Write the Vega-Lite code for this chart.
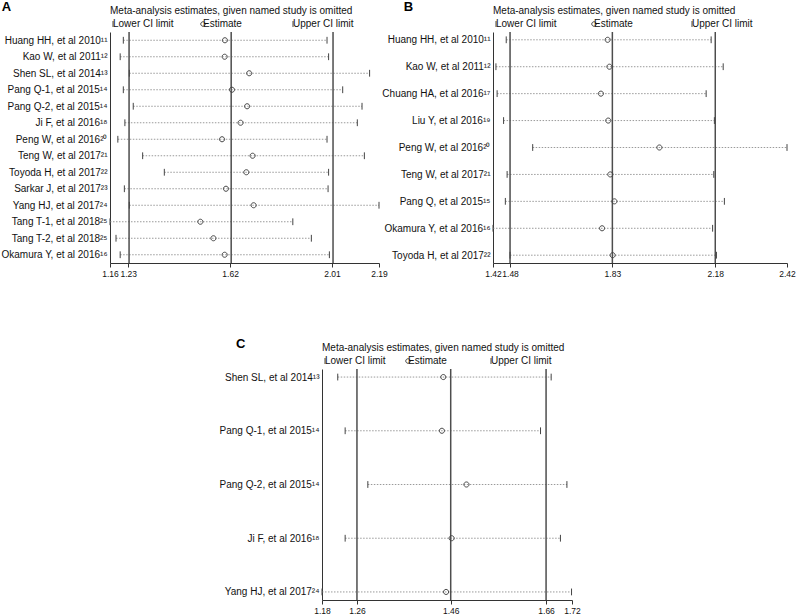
{
 "$schema": "https://vega.github.io/schema/vega-lite/v6.json",
 "padding": {"left": 0, "top": 1, "right": 4, "bottom": 2},
 "config": {
  "font": "Liberation Sans",
  "view": {"stroke": null},
  "axis": {"grid": false, "title": null, "labelFontSize": 10, "labelColor": "#111", "domainColor": "#333", "tickColor": "#333", "domainWidth": 1},
  "axisX": {"tickSize": 4, "labelPadding": 2, "labelFontSize": 8.5, "labelOverlap": false, "labelFlush": false, "labelBound": false, "format": ".2f"},
  "axisY": {"ticks": false, "labelPadding": 3, "labelLimit": 300},
  "legend": {"orient": "top", "direction": "horizontal", "offset": 3, "padding": 0, "titleFontSize": 10, "titleFontWeight": "normal", "titleColor": "#111", "titlePadding": 3, "labelFontSize": 10, "labelColor": "#111", "labelOffset": -5, "symbolOffset": -2, "symbolSize": 36, "symbolStrokeWidth": 1, "gridAlign": "all", "titleLimit": 400},
  "title": {"anchor": "start", "frame": "bounds", "fontSize": 13, "fontWeight": "bold", "color": "#000", "offset": 0, "dy": 12}
 },
 "datasets": {
  "A": [
   {"study": "Huang HH, et al 2010¹¹", "Lower CI limit": 1.211, "Estimate": 1.600, "Upper CI limit": 1.991},
   {"study": "Kao W, et al 2011¹²", "Lower CI limit": 1.199, "Estimate": 1.599, "Upper CI limit": 1.997},
   {"study": "Shen SL, et al 2014¹³", "Lower CI limit": 1.234, "Estimate": 1.693, "Upper CI limit": 2.154},
   {"study": "Pang Q-1, et al 2015¹⁴", "Lower CI limit": 1.211, "Estimate": 1.627, "Upper CI limit": 2.051},
   {"study": "Pang Q-2, et al 2015¹⁴", "Lower CI limit": 1.249, "Estimate": 1.685, "Upper CI limit": 2.125},
   {"study": "Ji F, et al 2016¹⁸", "Lower CI limit": 1.217, "Estimate": 1.660, "Upper CI limit": 2.107},
   {"study": "Peng W, et al 2016²⁰", "Lower CI limit": 1.190, "Estimate": 1.589, "Upper CI limit": 1.991},
   {"study": "Teng W, et al 2017²¹", "Lower CI limit": 1.285, "Estimate": 1.706, "Upper CI limit": 2.134},
   {"study": "Toyoda H, et al 2017²²", "Lower CI limit": 1.368, "Estimate": 1.682, "Upper CI limit": 1.997},
   {"study": "Sarkar J, et al 2017²³", "Lower CI limit": 1.215, "Estimate": 1.604, "Upper CI limit": 1.995},
   {"study": "Yang HJ, et al 2017²⁴", "Lower CI limit": 1.234, "Estimate": 1.710, "Upper CI limit": 2.190},
   {"study": "Tang T-1, et al 2018²⁵", "Lower CI limit": 1.160, "Estimate": 1.506, "Upper CI limit": 1.860},
   {"study": "Tang T-2, et al 2018²⁵", "Lower CI limit": 1.183, "Estimate": 1.556, "Upper CI limit": 1.931},
   {"study": "Okamura Y, et al 2016¹⁶", "Lower CI limit": 1.199, "Estimate": 1.599, "Upper CI limit": 2.000}
  ],
  "B": [
   {"study": "Huang HH, et al 2010¹¹", "Lower CI limit": 1.465, "Estimate": 1.810, "Upper CI limit": 2.162},
   {"study": "Kao W, et al 2011¹²", "Lower CI limit": 1.430, "Estimate": 1.816, "Upper CI limit": 2.203},
   {"study": "Chuang HA, et al 2016¹⁷", "Lower CI limit": 1.434, "Estimate": 1.787, "Upper CI limit": 2.145},
   {"study": "Liu Y, et al 2016¹⁹", "Lower CI limit": 1.456, "Estimate": 1.812, "Upper CI limit": 2.173},
   {"study": "Peng W, et al 2016²⁰", "Lower CI limit": 1.555, "Estimate": 1.986, "Upper CI limit": 2.420},
   {"study": "Teng W, et al 2017²¹", "Lower CI limit": 1.468, "Estimate": 1.819, "Upper CI limit": 2.171},
   {"study": "Pang Q, et al 2015¹⁵", "Lower CI limit": 1.462, "Estimate": 1.833, "Upper CI limit": 2.207},
   {"study": "Okamura Y, et al 2016¹⁶", "Lower CI limit": 1.420, "Estimate": 1.791, "Upper CI limit": 2.167},
   {"study": "Toyoda H, et al 2017²²", "Lower CI limit": 1.478, "Estimate": 1.827, "Upper CI limit": 2.180}
  ],
  "C": [
   {"study": "Shen SL, et al 2014¹³", "Lower CI limit": 1.214, "Estimate": 1.442, "Upper CI limit": 1.675},
   {"study": "Pang Q-1, et al 2015¹⁴", "Lower CI limit": 1.230, "Estimate": 1.439, "Upper CI limit": 1.652},
   {"study": "Pang Q-2, et al 2015¹⁴", "Lower CI limit": 1.279, "Estimate": 1.492, "Upper CI limit": 1.709},
   {"study": "Ji F, et al 2016¹⁸", "Lower CI limit": 1.230, "Estimate": 1.460, "Upper CI limit": 1.695},
   {"study": "Yang HJ, et al 2017²⁴", "Lower CI limit": 1.180, "Estimate": 1.448, "Upper CI limit": 1.719}
  ]
 },
 "spacing": 60,
 "resolve": {"scale": {"shape": "independent"}, "legend": {"shape": "independent"}},
 "vconcat": [
  {
   "hconcat": [
    {
     "title": {"text": "A", "dx": 1},
     "width": 269, "height": 231,
     "data": {"name": "A"},
     "layer": [
      {
       "mark": {"type": "rule", "color": "#9a9a9a", "strokeWidth": 1, "strokeDash": [1.5, 1.5]},
       "encoding": {
        "y": {"field": "study", "type": "nominal", "sort": null, "scale": {"type": "point", "padding": 0.5}},
        "x": {"field": "Lower CI limit", "type": "quantitative", "scale": {"domain": [1.16, 2.19], "nice": false, "zero": false}, "axis": {"values": [1.16, 1.23, 1.62, 2.01, 2.19]}},
        "x2": {"field": "Upper CI limit"}
       }
      },
      {
       "data": {"values": [{"v": 1.233}, {"v": 1.624}, {"v": 2.014}]},
       "mark": {"type": "rule", "color": "#4d4d4d", "strokeWidth": 1.5},
       "encoding": {"x": {"field": "v", "type": "quantitative"}}
      },
      {
       "transform": [{"fold": ["Lower CI limit", "Estimate", "Upper CI limit"], "as": ["type", "value"]}],
       "mark": {"type": "point", "filled": false, "color": "#444", "strokeWidth": 1, "size": 46, "opacity": 1},
       "encoding": {
        "y": {"field": "study", "type": "nominal", "sort": null},
        "x": {"field": "value", "type": "quantitative"},
        "shape": {"field": "type", "type": "nominal", "scale": {"domain": ["Lower CI limit", "Estimate", "Upper CI limit"], "range": ["M0,-1L0,1", "M0.75,0A0.75,0.75,0,1,1,-0.75,0A0.75,0.75,0,1,1,0.75,0Z", "M0,-1L0,1"]}, "legend": {"title": "Meta-analysis estimates, given named study is omitted", "columnPadding": 24}}
       }
      }
     ]
    },
    {
     "title": {"text": "B", "dx": 22},
     "width": 294, "height": 231,
     "data": {"name": "B"},
     "layer": [
      {
       "mark": {"type": "rule", "color": "#9a9a9a", "strokeWidth": 1, "strokeDash": [1.5, 1.5]},
       "encoding": {
        "y": {"field": "study", "type": "nominal", "sort": null, "scale": {"type": "point", "padding": 0.29}},
        "x": {"field": "Lower CI limit", "type": "quantitative", "scale": {"domain": [1.42, 2.42], "nice": false, "zero": false}, "axis": {"values": [1.42, 1.478, 1.826, 2.176, 2.42]}},
        "x2": {"field": "Upper CI limit"}
       }
      },
      {
       "data": {"values": [{"v": 1.478}, {"v": 1.826}, {"v": 2.176}]},
       "mark": {"type": "rule", "color": "#4d4d4d", "strokeWidth": 1.5},
       "encoding": {"x": {"field": "v", "type": "quantitative"}}
      },
      {
       "transform": [{"fold": ["Lower CI limit", "Estimate", "Upper CI limit"], "as": ["type", "value"]}],
       "mark": {"type": "point", "filled": false, "color": "#444", "strokeWidth": 1, "size": 46, "opacity": 1},
       "encoding": {
        "y": {"field": "study", "type": "nominal", "sort": null},
        "x": {"field": "value", "type": "quantitative"},
        "shape": {"field": "type", "type": "nominal", "scale": {"domain": ["Lower CI limit", "Estimate", "Upper CI limit"], "range": ["M0,-1L0,1", "M0.75,0A0.75,0.75,0,1,1,-0.75,0A0.75,0.75,0,1,1,0.75,0Z", "M0,-1L0,1"]}, "legend": {"title": "Meta-analysis estimates, given named study is omitted", "columnPadding": 32}}
       }
      }
     ]
    }
   ],
   "spacing": 114,
   "bounds": "flush",
   "resolve": {"scale": {"shape": "independent"}, "legend": {"shape": "independent"}}
  },
  {
   "hconcat": [
    {
     "width": 98, "height": 231,
     "data": {"values": [{}]},
     "mark": {"type": "text"},
     "encoding": {"text": {"value": ""}}
    },
    {
     "title": {"text": "C", "dx": 17},
     "width": 250, "height": 231,
     "data": {"name": "C"},
     "layer": [
      {
       "mark": {"type": "rule", "color": "#9a9a9a", "strokeWidth": 1, "strokeDash": [1.5, 1.5]},
       "encoding": {
        "y": {"field": "study", "type": "nominal", "sort": null, "scale": {"type": "point", "padding": 0.15}},
        "x": {"field": "Lower CI limit", "type": "quantitative", "scale": {"domain": [1.18, 1.72], "nice": false, "zero": false}, "axis": {"values": [1.18, 1.2555, 1.458, 1.664, 1.72]}},
        "x2": {"field": "Upper CI limit"}
       }
      },
      {
       "data": {"values": [{"v": 1.2555}, {"v": 1.458}, {"v": 1.664}]},
       "mark": {"type": "rule", "color": "#4d4d4d", "strokeWidth": 1.5},
       "encoding": {"x": {"field": "v", "type": "quantitative"}}
      },
      {
       "transform": [{"fold": ["Lower CI limit", "Estimate", "Upper CI limit"], "as": ["type", "value"]}],
       "mark": {"type": "point", "filled": false, "color": "#444", "strokeWidth": 1, "size": 46, "opacity": 1},
       "encoding": {
        "y": {"field": "study", "type": "nominal", "sort": null},
        "x": {"field": "value", "type": "quantitative"},
        "shape": {"field": "type", "type": "nominal", "scale": {"domain": ["Lower CI limit", "Estimate", "Upper CI limit"], "range": ["M0,-1L0,1", "M0.75,0A0.75,0.75,0,1,1,-0.75,0A0.75,0.75,0,1,1,0.75,0Z", "M0,-1L0,1"]}, "legend": {"title": "Meta-analysis estimates, given named study is omitted", "columnPadding": 17}}
       }
      }
     ]
    }
   ],
   "spacing": 114,
   "bounds": "flush",
   "resolve": {"scale": {"shape": "independent"}, "legend": {"shape": "independent"}}
  }
 ]
}
